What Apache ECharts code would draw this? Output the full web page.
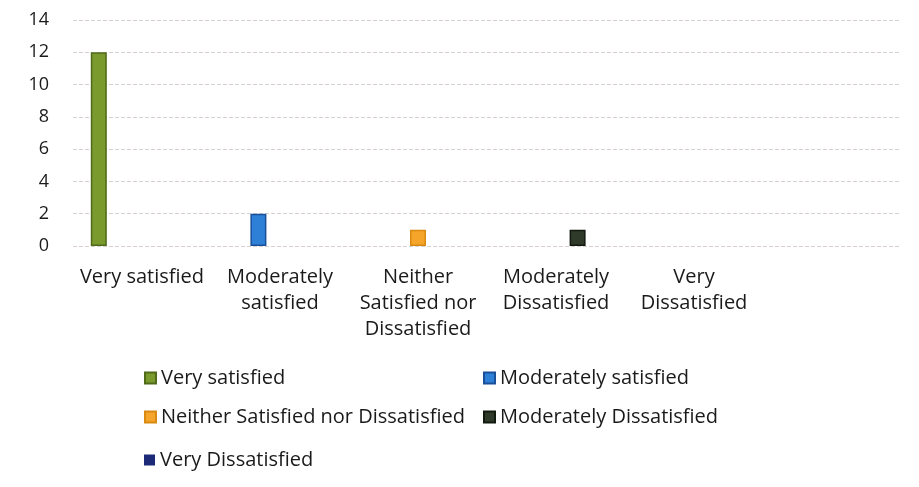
<!DOCTYPE html>
<html><head><meta charset="utf-8">
<script src="https://cdn.jsdelivr.net/npm/echarts@6/dist/echarts.min.js"></script>
<style>html,body{margin:0;padding:0;background:#fff}#c{width:919px;height:487px}</style>
</head><body><div id="c"></div>
<script>
const categories = ['Very satisfied', 'Moderately\nsatisfied', 'Neither\nSatisfied nor\nDissatisfied', 'Moderately\nDissatisfied', 'Very\nDissatisfied'];
const seriesNames = ['Very satisfied', 'Moderately satisfied', 'Neither Satisfied nor Dissatisfied', 'Moderately Dissatisfied', 'Very Dissatisfied'];
const verySatisfied = [12, null, null, null, null];
const moderatelySatisfied = [null, 2, null, null, null];
const neither = [null, null, 1, null, null];
const moderatelyDissatisfied = [null, null, null, 1, null];
const veryDissatisfied = [null, null, null, null, 0];
const yTicks = [0, 2, 4, 6, 8, 10, 12, 14];

const seriesData = [verySatisfied, moderatelySatisfied, neither, moderatelyDissatisfied, veryDissatisfied];
const colors = ['#7a9a2e', '#2e7fd6', '#f5a52a', '#2f3a2a', '#1c2a78'];
const borders = ['#4f6a18', '#1a4f9a', '#d98a10', '#121a10', '#0e1650'];
const FONT = 'Open Sans';

const legendPos = [[139, 363], [478, 363], [139, 402], [478, 402], [139, 445]];

const chart = echarts.init(document.getElementById('c'));
chart.setOption({
  animation: false,
  backgroundColor: '#fff',
  grid: { left: 73, right: 18, top: 20, bottom: 241, containLabel: false },
  xAxis: {
    type: 'category',
    data: categories.concat(['']),
    axisLine: { show: false },
    axisTick: { show: false },
    axisLabel: { color: '#1a1a1a', fontFamily: FONT, fontSize: 20, lineHeight: 26, margin: 18, interval: 0 }
  },
  yAxis: {
    type: 'value',
    min: yTicks[0], max: yTicks[yTicks.length - 1], interval: 2,
    axisLine: { show: false },
    axisTick: { show: false },
    axisLabel: { color: '#1a1a1a', fontFamily: FONT, fontSize: 18, margin: 24 },
    splitLine: { lineStyle: { color: '#d8d0d0', type: 'dashed', width: 1 } }
  },
  legend: seriesNames.map((n, i) => ({
    data: [n], left: legendPos[i][0], top: legendPos[i][1],
    icon: 'rect', itemWidth: 11, itemHeight: 11, itemGap: 4,
    textStyle: { color: '#1a1a1a', fontFamily: FONT, fontSize: 20 }
  })),
  series: seriesNames.map((n, i) => ({
    name: n, type: 'bar', data: seriesData[i],
    barWidth: 16, barGap: '35%',
    itemStyle: { color: colors[i], borderColor: borders[i], borderWidth: i === 4 ? 0 : 1.5 }
  }))
});
</script></body></html>
